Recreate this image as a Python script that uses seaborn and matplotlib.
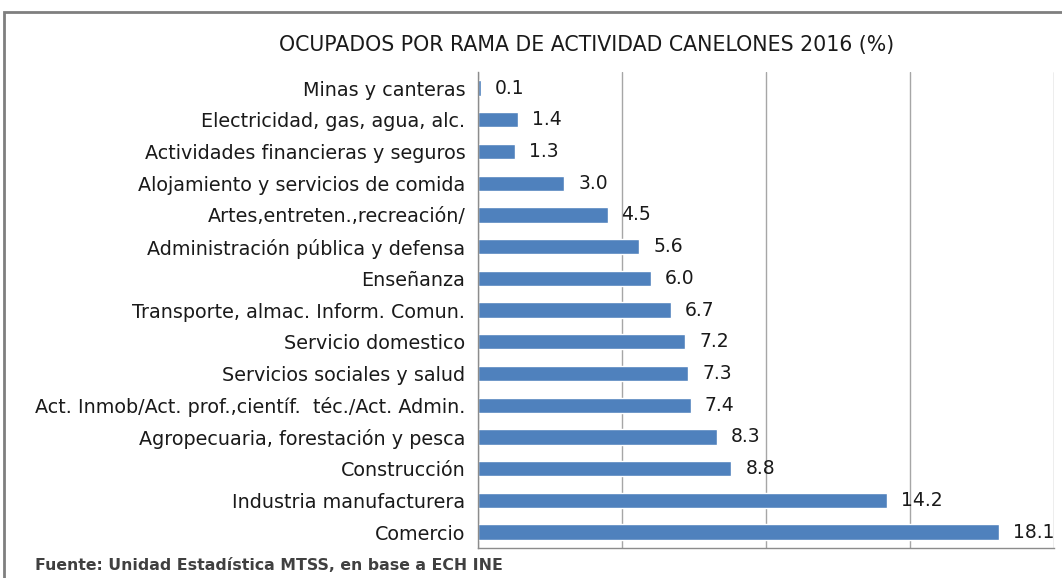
import numpy as np
import pandas as pd
import seaborn as sns
import matplotlib.pyplot as plt
from matplotlib.patches import Rectangle

categories = [
    "Minas y canteras",
    "Electricidad, gas, agua, alc.",
    "Actividades financieras y seguros",
    "Alojamiento y servicios de comida",
    "Artes,entreten.,recreación/",
    "Administración pública y defensa",
    "Enseñanza",
    "Transporte, almac. Inform. Comun.",
    "Servicio domestico",
    "Servicios sociales y salud",
    "Act. Inmob/Act. prof.,científ.  téc./Act. Admin.",
    "Agropecuaria, forestación y pesca",
    "Construcción",
    "Industria manufacturera",
    "Comercio",
]
values = [0.1, 1.4, 1.3, 3.0, 4.5, 5.6, 6.0, 6.7, 7.2, 7.3, 7.4, 8.3, 8.8, 14.2, 18.1]

df = pd.DataFrame({"rama": categories, "pct": values})

sns.set_style("white")
plt.rcParams["font.family"] = ["DejaVu Sans"]

fig = plt.figure(figsize=(10.62, 5.78), dpi=100)
ax = fig.add_axes([0.450, 0.052, 0.5425, 0.823])

sns.barplot(data=df, x="pct", y="rama", color="#4F81BD", saturation=1,
            width=0.48, orient="h", ax=ax)

ax.bar_label(ax.containers[0], fmt="%.1f", padding=10, fontsize=13.5, color="#1a1a1a")

ax.set_xlim(0, 20)
ax.set_xticks([0, 5, 10, 15, 20])
ax.set_xticklabels([])
ax.xaxis.grid(True, color="#a6a6a6", lw=1)
ax.set_axisbelow(True)
ax.set_xlabel("")
ax.set_ylabel("")

# y ticks sit between categories, as in the spreadsheet chart
ax.set_yticks(np.arange(len(categories)), labels=categories, fontsize=13.8, color="#1a1a1a")
ax.tick_params(axis="y", length=0, pad=9)
ax.set_yticks(np.arange(-0.5, len(categories)), minor=True)
ax.tick_params(axis="y", which="minor", length=5, color="#8c8c8c", width=1)
ax.tick_params(axis="x", length=5, color="#8c8c8c", width=1, direction="out")
ax.set_ylim(len(categories) - 0.5, -0.5)

for side in ["top", "right"]:
    ax.spines[side].set_visible(False)
for side in ["left", "bottom"]:
    ax.spines[side].set_color("#8c8c8c")
    ax.spines[side].set_linewidth(1)

fig.text(0.552, 0.922, "OCUPADOS POR RAMA DE ACTIVIDAD CANELONES 2016 (%)",
         ha="center", va="center", fontsize=14.8, color="#1a1a1a")
fig.text(0.033, 0.022, "Fuente: Unidad Estadística MTSS, en base a ECH INE",
         ha="left", va="center", fontsize=11.3, color="#404040", weight="bold")

fig.patches.append(Rectangle((0.004, -0.1), 1.2, 0.979 + 0.1, transform=fig.transFigure,
                             fill=False, edgecolor="#7f7f7f", lw=2))

fig.savefig("out.png", dpi=100)
